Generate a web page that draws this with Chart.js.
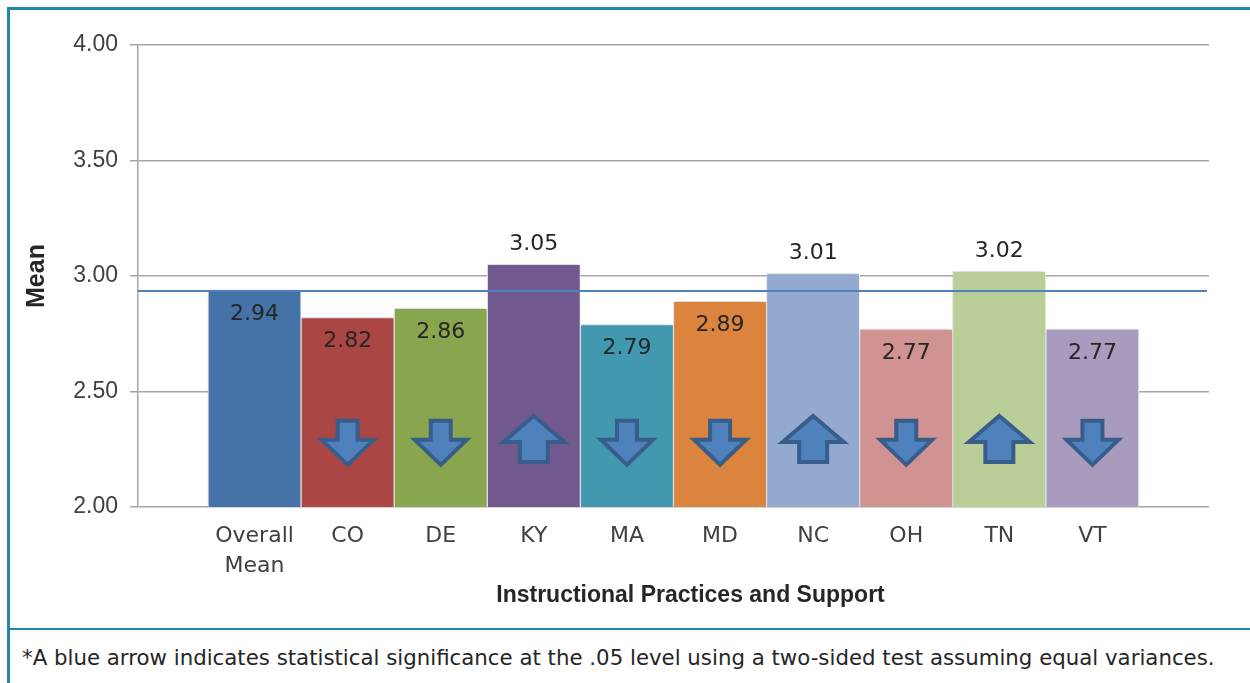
<!DOCTYPE html>
<html>
<head>
<meta charset="utf-8">
<title>Instructional Practices and Support</title>
<script src="https://cdn.jsdelivr.net/npm/chart.js@4.4.0/dist/chart.umd.min.js"></script>
<style>
  html, body { margin: 0; padding: 0; background: #fff; }
  body { width: 1250px; height: 683px; position: relative; overflow: hidden; }
  #chart { position: absolute; left: 0; top: 0; }
  .frame-left { position: absolute; left: 7px; top: 7px; width: 3px; height: 676px; background: #1f88aa; }
  .frame-top { position: absolute; left: 7px; top: 7px; width: 1243px; height: 3px; background: #1f88aa; }
  .divider { position: absolute; left: 10px; top: 628px; width: 1240px; height: 2px; background: #1f88aa; }
  .note { position: absolute; left: 22px; top: 647px; font-family: 'DejaVu Sans'; font-size: 21.3px;
          line-height: 22px; color: #262626; white-space: nowrap; }
</style>
</head>
<body>
<canvas id="chart" width="1250" height="628"></canvas>
<div class="frame-left"></div>
<div class="frame-top"></div>
<div class="divider"></div>
<div class="note">*A blue arrow indicates statistical significance at the .05 level using a two-sided test assuming equal variances.</div>
<script>
// donnees du graphique
const categories = [['Overall', 'Mean'], 'CO', 'DE', 'KY', 'MA', 'MD', 'NC', 'OH', 'TN', 'VT'];
const means = [2.94, 2.82, 2.86, 3.05, 2.79, 2.89, 3.01, 2.77, 3.02, 2.77];
const arrows = ['', 'down', 'down', 'up', 'down', 'down', 'up', 'down', 'up', 'down'];
const overallLine = 2.935;
const yTicks = [2.0, 2.5, 3.0, 3.5, 4.0];

const barColors = ['#4572a7', '#aa4643', '#89a54e', '#71588f', '#4198af',
                   '#db843d', '#93a9cf', '#d19392', '#b9cd96', '#a99bbd'];

const points = means.map((v, i) => ({ x: i, y: v }));

// ombre legere sous les barres
const barShadow = {
    id: 'barShadow',
    beforeDatasetDraw(chart) {
        const ctx = chart.ctx;
        ctx.save();
        ctx.shadowColor = 'rgba(0,0,0,0.22)';
        ctx.shadowBlur = 4;
        ctx.shadowOffsetX = -1;
        ctx.shadowOffsetY = -1;
    },
    afterDatasetDraw(chart) {
        chart.ctx.restore();
    }
};

// ligne de la moyenne generale, fleches et etiquettes
const overlays = {
    id: 'overlays',
    afterDatasetsDraw(chart) {
        const ctx = chart.ctx;
        const area = chart.chartArea;
        const yScale = chart.scales.y;
        const meta = chart.getDatasetMeta(0);

        // ligne horizontale
        const ly = yScale.getPixelForValue(overallLine);
        ctx.save();
        ctx.strokeStyle = '#4f81bd';
        ctx.lineWidth = 2;
        ctx.beginPath();
        ctx.moveTo(area.left, ly);
        ctx.lineTo(area.right - 2, ly);
        ctx.stroke();

        // fleches
        meta.data.forEach((bar, i) => {
            const dir = arrows[i];
            if (!dir) return;
            const cx = bar.x;
            let pts;
            if (dir === 'down') {
                const top = yScale.getPixelForValue(2.373);
                const w = 52, sw = 20, h = 44, hh = 25;
                pts = [[cx - sw / 2, top], [cx + sw / 2, top], [cx + sw / 2, top + h - hh],
                       [cx + w / 2, top + h - hh], [cx, top + h], [cx - w / 2, top + h - hh],
                       [cx - sw / 2, top + h - hh]];
            } else {
                const top = yScale.getPixelForValue(2.394);
                const w = 61, sw = 28, h = 46, hh = 26;
                pts = [[cx, top], [cx + w / 2, top + hh], [cx + sw / 2, top + hh],
                       [cx + sw / 2, top + h], [cx - sw / 2, top + h], [cx - sw / 2, top + hh],
                       [cx - w / 2, top + hh]];
            }
            ctx.beginPath();
            pts.forEach((p, k) => k ? ctx.lineTo(p[0], p[1]) : ctx.moveTo(p[0], p[1]));
            ctx.closePath();
            ctx.fillStyle = '#4f81bd';
            ctx.fill();
            ctx.lineWidth = 4;
            ctx.lineJoin = 'miter';
            ctx.strokeStyle = '#385d8a';
            ctx.stroke();
        });

        // etiquettes de valeurs
        ctx.font = '22px "DejaVu Sans"';
        ctx.fillStyle = '#262626';
        ctx.textAlign = 'center';
        ctx.textBaseline = 'middle';
        meta.data.forEach((bar, i) => {
            const y = means[i] > 3 ? bar.y - 20 : bar.y + 24;
            ctx.fillText(means[i].toFixed(2), bar.x, y);
        });
        ctx.restore();
    },
    afterDraw(chart) {
        const ctx = chart.ctx;
        const area = chart.chartArea;
        ctx.save();
        ctx.font = 'bold 23px "Liberation Sans"';
        ctx.fillStyle = '#262626';
        ctx.textAlign = 'center';
        ctx.textBaseline = 'middle';
        ctx.fillText('Instructional Practices and Support', (area.left + area.right) / 2 + 17, 596);
        ctx.restore();
    }
};

new Chart(document.getElementById('chart'), {
    type: 'bar',
    data: {
        datasets: [{
            label: 'Mean',
            data: points,
            backgroundColor: barColors,
            borderColor: '#ffffff',
            borderWidth: 1,
            barThickness: 'flex',
            barPercentage: 1,
            categoryPercentage: 1
        }]
    },
    options: {
        responsive: false,
        animation: false,
        layout: { padding: { top: 45, right: 41, left: 0, bottom: 0 } },
        plugins: {
            legend: { display: false },
            tooltip: { enabled: false }
        },
        scales: {
            x: {
                type: 'linear',
                offset: false,
                min: -1.252,
                max: categories.length - 1 + 1.252,
                grid: { display: false, drawTicks: false, offset: false },
                border: { display: false },
                ticks: {
                    stepSize: 1,
                    includeBounds: false,
                    autoSkip: false,
                    maxRotation: 0,
                    padding: 14,
                    color: '#404040',
                    font: { family: 'DejaVu Sans', size: 22, lineHeight: 1.36 },
                    callback: function(value) {
                        return Number.isInteger(value) && value >= 0 && value < categories.length
                            ? categories[value] : '';
                    }
                },
                afterFit: function(scale) { scale.height = 121; }
            },
            y: {
                min: yTicks[0],
                max: yTicks[yTicks.length - 1],
                grid: { color: '#a6a6a6', lineWidth: 1.5, tickLength: 8 },
                border: { display: true, color: '#a6a6a6', width: 1.5 },
                ticks: {
                    stepSize: yTicks[1] - yTicks[0],
                    padding: 12,
                    color: '#404040',
                    font: { family: 'Liberation Sans', size: 23 },
                    callback: function(value) { return value.toFixed(2); }
                },
                title: {
                    display: true,
                    text: 'Mean',
                    color: '#262626',
                    font: { family: 'Liberation Sans', size: 25, weight: 'bold' },
                    padding: { top: 22, bottom: 0 }
                },
                afterFit: function(scale) { scale.width = 138; }
            }
        }
    },
    plugins: [barShadow, overlays]
});
</script>
</body>
</html>
